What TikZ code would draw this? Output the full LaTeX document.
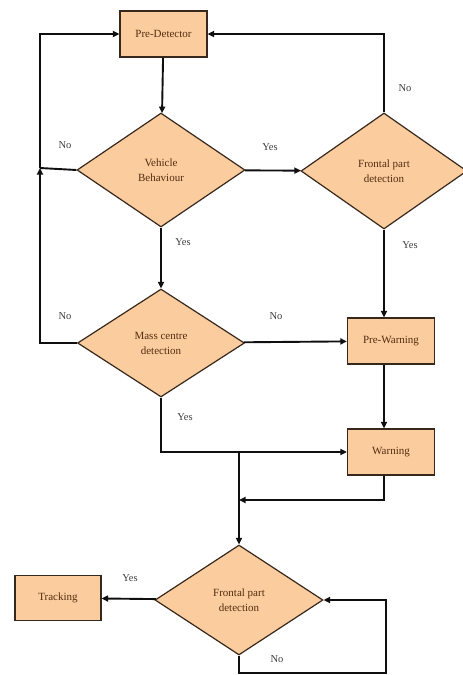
\documentclass[tikz,border=0pt]{standalone}
\usepackage{fontspec}
\setmainfont{Liberation Serif}
\usetikzlibrary{arrows.meta,shapes.geometric}
\definecolor{peach}{RGB}{250,204,158}
\definecolor{edge}{RGB}{55,40,30}
\definecolor{brown}{RGB}{85,45,15}
\definecolor{ink}{RGB}{15,15,15}
\definecolor{grey}{RGB}{60,60,60}
\tikzset{
  every picture/.style={x=1pt, y=-1pt, line width=1.9pt, color=ink},
  box/.style={draw=edge, line width=1.2pt, fill=peach, text=brown, inner sep=2pt,
    minimum width=87pt, minimum height=46pt, align=center,
    font=\fontsize{11}{15}\selectfont},
  decision/.style={box, diamond, inner sep=0pt},
  flow/.style={-{Triangle[length=6.5pt,width=6pt]}},
  lbl/.style={text=grey, font=\fontsize{10.5}{12}\selectfont, inner sep=1pt},
}
\begin{document}
\begin{tikzpicture}
  \useasboundingbox (0,0) rectangle (463,675);
  % boxes and decisions
  \node[box] (pre) at (163.5,34) {Pre-Detector};
  \node[decision, minimum width=168pt, minimum height=114pt] (vb) at (161,170) {Vehicle\\Behaviour};
  \node[decision, minimum width=166pt, minimum height=116pt] (fr) at (384,171) {Frontal part\\detection};
  \node[decision, minimum width=167pt, minimum height=108pt] (mc) at (161,343) {Mass centre\\detection};
  \node[box] (pw) at (391,341) {Pre-Warning};
  \node[box] (warn) at (391,452) {Warning};
  \node[decision, minimum width=168pt, minimum height=110pt] (fr2) at (239,600) {Frontal part\\detection};
  \node[box, minimum width=86pt, minimum height=45pt] (track) at (58,598) {Tracking};
  % junctions
  \coordinate (lj) at (40,168);
  \coordinate (jn) at (fr2.north |- warn.west);
  \coordinate (jw) at (fr2.north |- 0,500);
  \coordinate (lb) at (386,673);
  % connectors
  \draw[flow] (pre) -- (vb);
  \draw[flow] (vb) -- (fr);
  \draw (vb.west) -- (lj);
  \draw[flow] (mc.west) -| (lj);
  \draw[flow] (lj) |- (pre.west);
  \draw[flow] (fr.north) |- (pre.east);
  \draw[flow] (vb) -- (mc);
  \draw[flow] (fr.south) -- (fr.south |- pw.north);
  \draw[flow] (mc) -- (pw);
  \draw[flow] (pw.south -| fr.south) -- (warn.north -| fr.south);
  \draw[flow] (mc.south) |- (warn.west);
  \draw[flow] (jn) -- (fr2.north);
  \draw[flow] (warn.south -| fr.south) |- (jw);
  \draw[flow] (fr2) -- (track);
  \draw[flow] (fr2.south) |- (lb) |- (fr2.east);
  % labels
  \node[lbl] (l1) at (65,145) {No};
  \node[lbl] (l2) at (270,147) {Yes};
  \node[lbl] (l3) at (405,88) {No};
  \node[lbl] (l4) at (183,242) {Yes};
  \node[lbl] (l5) at (410,245) {Yes};
  \node[lbl] (l6) at (65,316) {No};
  \node[lbl] (l7) at (276,316) {No};
  \node[lbl] (l8) at (185,417) {Yes};
  \node[lbl] (l9) at (130,578) {Yes};
  \node[lbl] (l10) at (277,659) {No};
\end{tikzpicture}
\end{document}
